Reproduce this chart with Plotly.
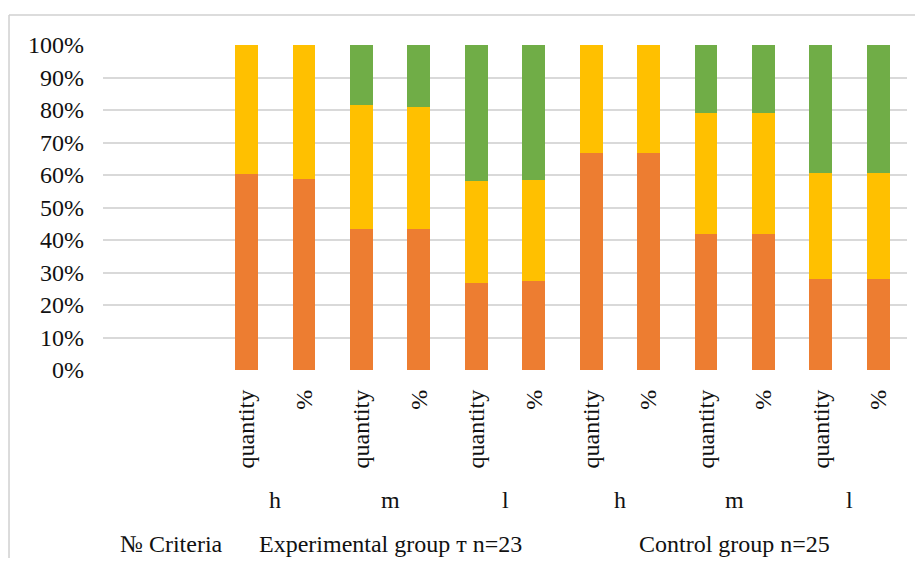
import plotly.graph_objects as go

# ---- data (percent of each bar) ----
slot_labels = ["", "", "quantity", "%", "quantity", "%", "quantity", "%",
               "quantity", "%", "quantity", "%", "quantity", "%"]
level_labels = ["h", "m", "l", "h", "m", "l"]
group_labels = ["№ Criteria", "Experimental group т n=23", "Control group n=25"]

orange_vals = [60.2, 58.9, 43.5, 43.5, 26.7, 27.4, 66.8, 66.8, 41.9, 41.9, 28.1, 28.1]
yellow_vals = [39.8, 41.1, 37.9, 37.5, 31.4, 31.1, 33.2, 33.2, 37.1, 37.1, 32.4, 32.4]
green_vals = [0.0, 0.0, 18.6, 19.0, 41.9, 41.5, 0.0, 0.0, 21.0, 21.0, 39.5, 39.5]

y_ticks = [0, 10, 20, 30, 40, 50, 60, 70, 80, 90, 100]

FONT = "Liberation Serif"
FS = 24
TXT = "#111111"

n_slots = len(slot_labels)
bar_x = [i for i, s in enumerate(slot_labels) if s != ""]

fig = go.Figure()
for name, vals, col in [("orange", orange_vals, "#ED7D31"),
                        ("yellow", yellow_vals, "#FFC000"),
                        ("green", green_vals, "#70AD47")]:
    fig.add_trace(go.Bar(x=bar_x, y=vals, name=name, marker_color=col,
                         marker_line_width=0, showlegend=False))

annotations = []
# level 2: h / m / l, centred under each pair of bars
for k, lab in enumerate(level_labels):
    xc = (bar_x[2 * k] + bar_x[2 * k + 1]) / 2
    annotations.append(dict(x=xc, y=-0.40, xref="x", yref="paper", text=lab,
                            showarrow=False, yanchor="middle",
                            font=dict(family=FONT, size=FS, color=TXT)))
# level 3: groups
group_x = [0.7, (bar_x[0] + bar_x[5]) / 2, (bar_x[6] + bar_x[11]) / 2]
for xc, lab in zip(group_x, group_labels):
    annotations.append(dict(x=xc, y=-0.536, xref="x", yref="paper", text=lab,
                            showarrow=False, yanchor="middle",
                            font=dict(family=FONT, size=FS, color=TXT)))

border = dict(color="#d0d0d0", width=1.5)
fig.update_layout(
    width=907, height=550,
    margin=dict(l=95, r=8, t=37, b=188),
    paper_bgcolor="white", plot_bgcolor="white",
    barmode="stack", bargap=0.6,
    font=dict(family=FONT, size=FS, color=TXT),
    annotations=annotations,
    shapes=[
        dict(type="line", xref="paper", yref="paper", x0=-0.1169, x1=1.3,
             y0=1.0923, y1=1.0923, line=border, layer="below"),
        dict(type="line", xref="paper", yref="paper", x0=-0.1169, x1=-0.1169,
             y0=-0.9, y1=1.0923, line=border, layer="below"),
    ],
)
fig.update_xaxes(
    range=[-0.5, n_slots - 0.5],
    tickmode="array", tickvals=list(range(n_slots)), ticktext=slot_labels,
    tickangle=-90, showgrid=False, zeroline=False, showline=False,
    ticks="", ticklabelstandoff=14,
    tickfont=dict(family=FONT, size=FS, color=TXT),
)
fig.update_yaxes(
    range=[0, 100], tickmode="array", tickvals=y_ticks,
    ticktext=[f"{v}%" for v in y_ticks],
    showgrid=True, gridcolor="#d9d9d9", gridwidth=1.5,
    zeroline=True, zerolinecolor="rgba(0,0,0,0)",
    showline=False, ticks="", ticklabelstandoff=18,
    tickfont=dict(family=FONT, size=FS, color=TXT),
)

fig.write_html("out.html")
